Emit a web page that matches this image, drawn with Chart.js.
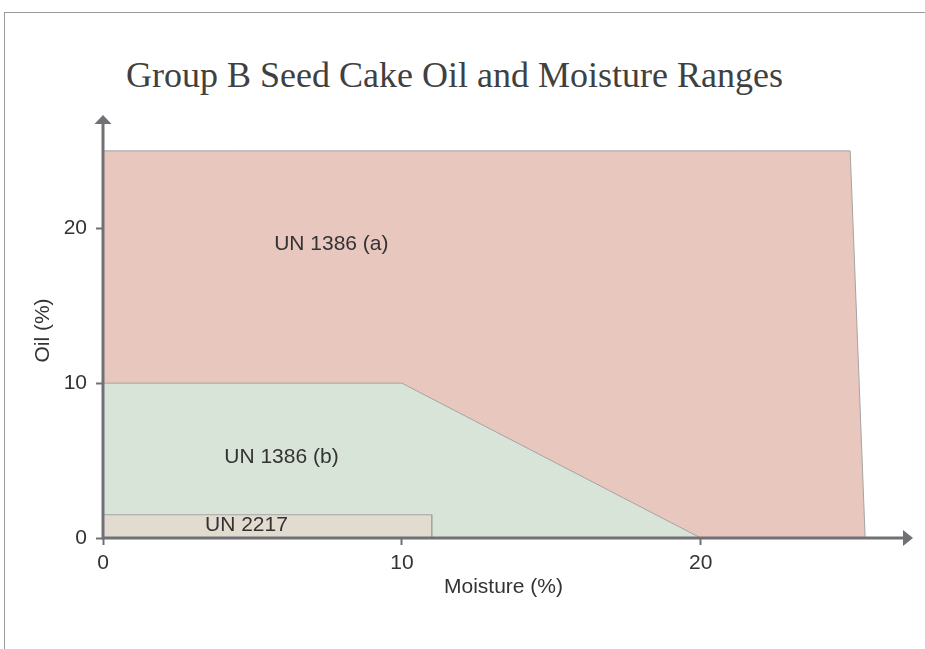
<!DOCTYPE html>
<html>
<head>
<meta charset="utf-8">
<title>Group B Seed Cake Oil and Moisture Ranges</title>
<script src="https://cdn.jsdelivr.net/npm/chart.js@4.4.1/dist/chart.umd.min.js"></script>
<style>
  body { margin: 0; background: #fff; }
  #wrap { position: relative; width: 925px; height: 649px; overflow: hidden; }
  #frame { position: absolute; left: 4px; top: 12px; width: 1000px; height: 1000px;
           border-left: 1px solid #9a9a9a; border-top: 1px solid #9a9a9a; }
  #title { position: absolute; left: 126px; top: 57px; margin: 0; font: normal 36px/36px "Liberation Serif";
           color: #404040; white-space: nowrap; }
  canvas { position: absolute; left: 0; top: 0; }
</style>
</head>
<body>
<div id="wrap">
  <div id="frame"></div>
  <h1 id="title">Group B Seed Cake Oil and Moisture Ranges</h1>
  <canvas id="chart" width="925" height="649"></canvas>
</div>
<script>
// region outlines, drawn as lines filled down to oil = 0
const regionNames = ['UN 1386 (a)', 'UN 1386 (b)', 'UN 2217'];
const un1386aMoisture = [0, 25, 25.5];
const un1386aOil = [25, 25, 0];
const un1386bMoisture = [0, 10, 20];
const un1386bOil = [10, 10, 0];
const un2217Moisture = [0, 11, 11];
const un2217Oil = [1.5, 1.5, 0];

const xTicks = [0, 10, 20];
const yTicks = [0, 10, 20];

// where each region name sits, in axis units
const labelMoisture = [7.64, 5.97, 4.8];
const labelOil = [18.95, 5.25, 0.82];

const axisColor = '#707075';
const edgeColor = '#a4a4a4';
const textColor = '#333';
const sans = 'Liberation Sans, Arial, sans-serif';

function pts(xs, ys) {
    return xs.map((x, i) => ({ x: x, y: ys[i] }));
}

function region(i, xs, ys, fillColor, order) {
    return {
        label: regionNames[i],
        data: pts(xs, ys),
        showLine: true,
        fill: 'origin',
        backgroundColor: fillColor,
        borderColor: edgeColor,
        borderWidth: 1,
        pointRadius: 0,
        tension: 0,
        order: order
    };
}

// axis lines with arrow heads, drawn over the filled regions
const axes = {
    id: 'axes',
    afterDraw(chart) {
        const { ctx, chartArea, scales } = chart;
        const x0 = scales.x.getPixelForValue(0);
        const y0 = scales.y.getPixelForValue(0);
        ctx.save();
        ctx.strokeStyle = axisColor;
        ctx.fillStyle = axisColor;
        ctx.lineWidth = 3;
        ctx.beginPath();
        ctx.moveTo(x0, chartArea.top);
        ctx.lineTo(x0, y0);
        ctx.lineTo(chartArea.right, y0);
        ctx.stroke();
        ctx.beginPath();
        ctx.moveTo(chartArea.right - 1, y0 - 8);
        ctx.lineTo(chartArea.right + 9, y0);
        ctx.lineTo(chartArea.right - 1, y0 + 8);
        ctx.closePath();
        ctx.fill();
        ctx.beginPath();
        ctx.moveTo(x0 - 8.5, chartArea.top + 1);
        ctx.lineTo(x0, chartArea.top - 8);
        ctx.lineTo(x0 + 8.5, chartArea.top + 1);
        ctx.closePath();
        ctx.fill();
        ctx.restore();
    }
};

const regionLabels = {
    id: 'regionLabels',
    afterDatasetsDraw(chart) {
        const { ctx, scales } = chart;
        ctx.save();
        ctx.fillStyle = textColor;
        ctx.font = '21px ' + sans;
        ctx.textAlign = 'center';
        ctx.textBaseline = 'middle';
        regionNames.forEach((name, i) => {
            ctx.fillText(name, scales.x.getPixelForValue(labelMoisture[i]), scales.y.getPixelForValue(labelOil[i]));
        });
        ctx.restore();
    }
};

new Chart(document.getElementById('chart'), {
    type: 'scatter',
    data: {
        datasets: [
            region(0, un1386aMoisture, un1386aOil, 'rgb(232, 199, 190)', 3),
            region(1, un1386bMoisture, un1386bOil, 'rgb(217, 228, 216)', 2),
            region(2, un2217Moisture, un2217Oil, 'rgb(226, 219, 208)', 1)
        ]
    },
    options: {
        responsive: false,
        animation: false,
        devicePixelRatio: 1,
        layout: { padding: { left: 0, top: 123, right: 21, bottom: 0 } },
        plugins: {
            legend: { display: false },
            tooltip: { enabled: false },
            filler: { propagate: false }
        },
        scales: {
            x: {
                type: 'linear',
                min: 0,
                max: 26.8,
                afterFit: s => { s.height = 111; },
                afterBuildTicks: s => { s.ticks = xTicks.map(v => ({ value: v })); },
                grid: { display: true, drawOnChartArea: false, drawTicks: true, tickLength: 7, tickWidth: 2, tickColor: axisColor },
                border: { display: false },
                ticks: { color: textColor, font: { family: sans, size: 21 }, padding: 6, maxRotation: 0 },
                title: { display: true, text: 'Moisture (%)', color: textColor, font: { family: sans, size: 21 }, padding: { top: 0, bottom: 49 } }
            },
            y: {
                type: 'linear',
                min: 0,
                max: 26.8,
                afterFit: s => { s.width = 103; },
                afterBuildTicks: s => { s.ticks = yTicks.map(v => ({ value: v })); },
                grid: { display: true, drawOnChartArea: false, drawTicks: true, tickLength: 7, tickWidth: 2, tickColor: axisColor },
                border: { display: false },
                ticks: { color: textColor, font: { family: sans, size: 21 }, padding: 9 },
                title: { display: true, text: 'Oil (%)', color: textColor, font: { family: sans, size: 21 }, padding: { top: 31, bottom: 0 } }
            }
        }
    },
    plugins: [axes, regionLabels]
});
</script>
</body>
</html>
